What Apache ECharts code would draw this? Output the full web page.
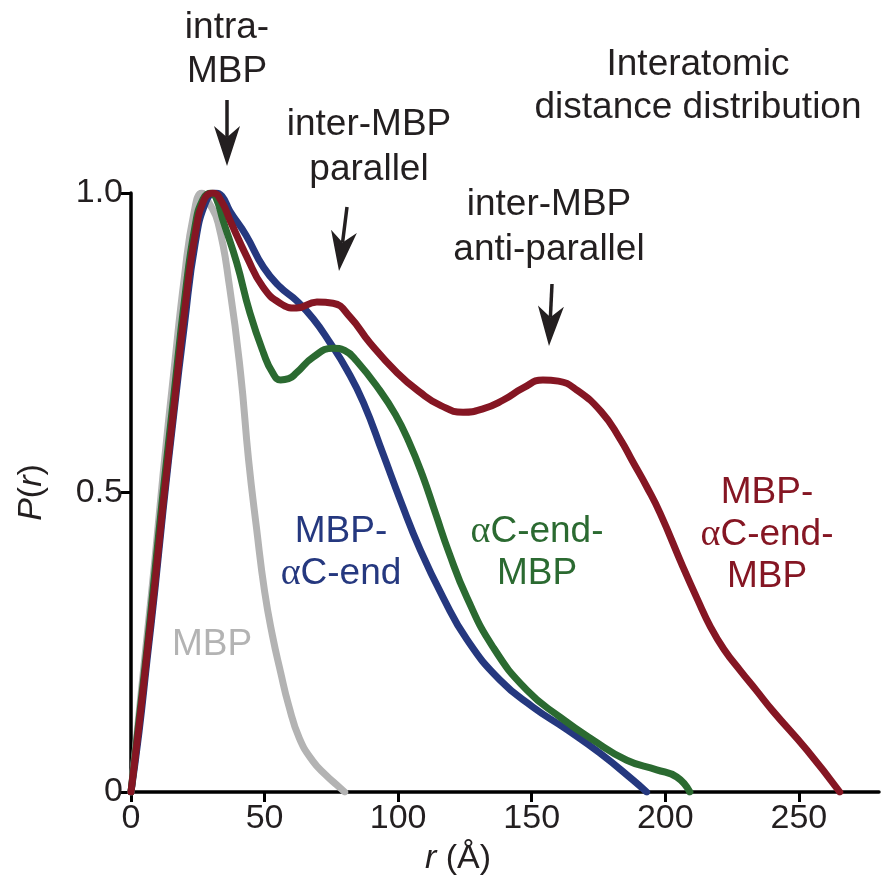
<!DOCTYPE html>
<html>
<head>
<meta charset="utf-8">
<script src="https://cdn.jsdelivr.net/npm/echarts@6/dist/echarts.min.js"></script>
<style>
  html, body { margin: 0; padding: 0; background: #ffffff; }
  #chart { width: 882px; height: 882px; }
</style>
</head>
<body>
<div id="chart"></div>
<script>
// Pair distance distributions P(r), normalised to peak = 1, r in Å
const rMBP = [0, 3, 6, 9, 12, 16, 20, 23.5, 26.5, 29, 32.6, 37, 41, 44, 47, 50, 53, 56, 59, 63, 68, 73, 77, 80];
const pMBP = [0, 0.13, 0.26, 0.39, 0.53, 0.70, 0.86, 0.965, 1.0, 0.985, 0.95, 0.84, 0.70, 0.555, 0.44, 0.335, 0.26, 0.20, 0.145, 0.09, 0.052, 0.028, 0.012, 0];

const rMBPaC = [0, 3, 6, 9, 12, 16, 20, 24, 28, 31.5, 34, 37, 43, 49.6, 55.8, 62, 68.2, 74.5, 80.8, 87, 94.3, 101, 108.2, 116.8, 125.7, 138.1, 150.4, 163.2, 175.5, 187.9, 193];
const pMBPaC = [0, 0.10, 0.22, 0.34, 0.47, 0.63, 0.78, 0.915, 0.985, 1.0, 0.995, 0.97, 0.93, 0.876, 0.843, 0.82, 0.79, 0.75, 0.705, 0.65, 0.565, 0.485, 0.405, 0.325, 0.255, 0.187, 0.142, 0.104, 0.065, 0.02, 0];

const rACMBP = [0, 3, 6, 9, 12, 16, 20, 24, 27, 30, 32, 34.4, 39.6, 44.5, 49.6, 53, 56, 59, 62, 68.2, 75.6, 80, 84.4, 93.2, 99, 104, 109, 114, 119, 125.7, 135.5, 148.2, 160.6, 172.9, 185.6, 196.8, 204.3, 209.2];
const pACMBP = [0, 0.12, 0.24, 0.37, 0.50, 0.66, 0.82, 0.945, 0.99, 1.0, 0.99, 0.955, 0.883, 0.80, 0.733, 0.70, 0.688, 0.69, 0.70, 0.726, 0.741, 0.737, 0.72, 0.67, 0.63, 0.585, 0.53, 0.465, 0.40, 0.325, 0.242, 0.17, 0.125, 0.087, 0.053, 0.037, 0.025, 0];

const rMBPaCMBP = [0, 3, 6, 9, 12, 16, 20, 24, 27.5, 30.7, 34, 37, 43.4, 49.4, 55.8, 62, 69.6, 75.6, 82, 89.4, 99.6, 108, 116, 124.3, 132, 139.2, 147, 154.2, 160, 166.9, 176, 183, 188, 193, 198, 206.6, 212, 217, 222, 228, 234, 240.3, 253, 265.3];
const pMBPaCMBP = [0, 0.11, 0.23, 0.35, 0.48, 0.64, 0.80, 0.93, 0.99, 1.0, 0.985, 0.955, 0.893, 0.843, 0.816, 0.808, 0.818, 0.816, 0.793, 0.75, 0.70, 0.668, 0.645, 0.634, 0.64, 0.654, 0.675, 0.688, 0.686, 0.671, 0.635, 0.59, 0.55, 0.51, 0.466, 0.376, 0.322, 0.275, 0.238, 0.203, 0.17, 0.135, 0.07, 0];

const xTicks = [0, 50, 100, 150, 200, 250];
const yTicks = [0, 0.5, 1.0];
const yTickText = ['0', '0.5', '1.0'];

const INK = '#231f20';
const GRAY = '#b3b3b3';
const BLUE = '#25387f';
const GREEN = '#2b6a31';
const RED = '#851623';
const FAMILY = '"Liberation Sans", Arial, Helvetica, sans-serif';
const SERIF = '"Liberation Serif", "Times New Roman", serif';
const TEXT_SIZE = 37;

function pairs(r, p) { return r.map((v, i) => [v, p[i]]); }

function curve(name, r, p, color) {
  return {
    name: name, type: 'line', data: pairs(r, p),
    smooth: 0.5,
    showSymbol: false, symbol: 'none', silent: true,
    lineStyle: { color: color, width: 7, cap: 'round', join: 'round' }
  };
}

// Arrow with a notched (stealth) head, from (x1,y1) pointing to (x2,y2)
function arrow(x1, y1, x2, y2) {
  const dx = x2 - x1, dy = y2 - y1;
  const len = Math.hypot(dx, dy);
  const ux = dx / len, uy = dy / len;
  const px = -uy, py = ux;
  const L = 40, W = 26;
  const bx = x2 - L * ux, by = y2 - L * uy;
  const nx = x2 - 0.72 * L * ux, ny = y2 - 0.72 * L * uy;
  return [
    { type: 'line', silent: true,
      shape: { x1: x1, y1: y1, x2: nx, y2: ny },
      style: { stroke: INK, lineWidth: 3.5 } },
    { type: 'polygon', silent: true,
      shape: { points: [[x2, y2], [bx + px * W / 2, by + py * W / 2], [nx, ny], [bx - px * W / 2, by - py * W / 2]] },
      style: { fill: INK } }
  ];
}

function label(text, x, y, color, lh) {
  return {
    type: 'text', silent: true, x: x, y: y,
    style: {
      text: text, fill: color,
      font: TEXT_SIZE + 'px ' + FAMILY,
      fontSize: TEXT_SIZE, fontFamily: FAMILY,
      lineHeight: lh,
      align: 'center', verticalAlign: 'middle',
      textAlign: 'center', textVerticalAlign: 'middle',
      rich: {
        a: { fontFamily: SERIF, fontSize: TEXT_SIZE + 1, fill: color, lineHeight: lh },
        t: { fontFamily: FAMILY, fontSize: TEXT_SIZE, fill: color, lineHeight: lh }
      }
    }
  };
}

const chart = echarts.init(document.getElementById('chart'), null, { renderer: 'canvas' });

chart.setOption({
  animation: false,
  backgroundColor: '#ffffff',
  grid: { left: 131, top: 193, width: 748, height: 599, containLabel: false },
  xAxis: {
    type: 'value', min: 0, max: 280, interval: 50,
    name: '{i|r} (Å)', nameLocation: 'middle', nameGap: 50,
    nameTextStyle: {
      color: INK, fontFamily: FAMILY, fontSize: 34, padding: [0, 94, 0, 0],
      rich: { i: { fontStyle: 'italic', fontFamily: FAMILY, fontSize: 34, color: INK } }
    },
    axisLine: { show: true, onZero: false, lineStyle: { color: '#000', width: 3.5 } },
    axisTick: { show: true, inside: false, length: 10, customValues: xTicks, lineStyle: { color: '#000', width: 3 } },
    axisLabel: { customValues: xTicks, color: INK, fontFamily: FAMILY, fontSize: 34, margin: 10 },
    splitLine: { show: false }
  },
  yAxis: {
    type: 'value', min: 0, max: 1, interval: 0.5,
    name: '{i|P}({i|r})', nameLocation: 'middle', nameGap: 82, nameRotate: 90,
    nameTextStyle: {
      color: INK, fontFamily: FAMILY, fontSize: 34,
      rich: { i: { fontStyle: 'italic', fontFamily: FAMILY, fontSize: 34, color: INK } }
    },
    axisLine: { show: true, onZero: false, lineStyle: { color: '#000', width: 3.5 } },
    axisTick: { show: true, inside: false, length: 10, lineStyle: { color: '#000', width: 3 } },
    axisLabel: {
      color: INK, fontFamily: FAMILY, fontSize: 34, margin: 8,
      formatter: function (v) { const i = yTicks.indexOf(v); return i >= 0 ? yTickText[i] : ''; }
    },
    splitLine: { show: false }
  },
  series: [
    curve('MBP', rMBP, pMBP, GRAY),
    curve('MBP-αC-end', rMBPaC, pMBPaC, BLUE),
    curve('αC-end-MBP', rACMBP, pACMBP, GREEN),
    curve('MBP-αC-end-MBP', rMBPaCMBP, pMBPaCMBP, RED)
  ],
  graphic: [].concat(
    [
      label('intra-\nMBP', 227, 50, INK, 44),
      label('inter-MBP\nparallel', 369, 147, INK, 45),
      label('inter-MBP\nanti-parallel', 549, 227, INK, 45),
      label('Interatomic\ndistance distribution', 698, 86, INK, 43),
      label('MBP-\n{a|α}{t|C-end}', 341, 553, BLUE, 42),
      label('{a|α}{t|C-end-}\nMBP', 537, 553, GREEN, 42),
      label('MBP-\n{a|α}{t|C-end-}\nMBP', 767, 535, RED, 42),
      label('MBP', 212, 645, GRAY, 42)
    ],
    arrow(227, 100, 227, 166),
    arrow(347, 207, 339, 271),
    arrow(552, 284, 549, 346)
  )
});
</script>
</body>
</html>
